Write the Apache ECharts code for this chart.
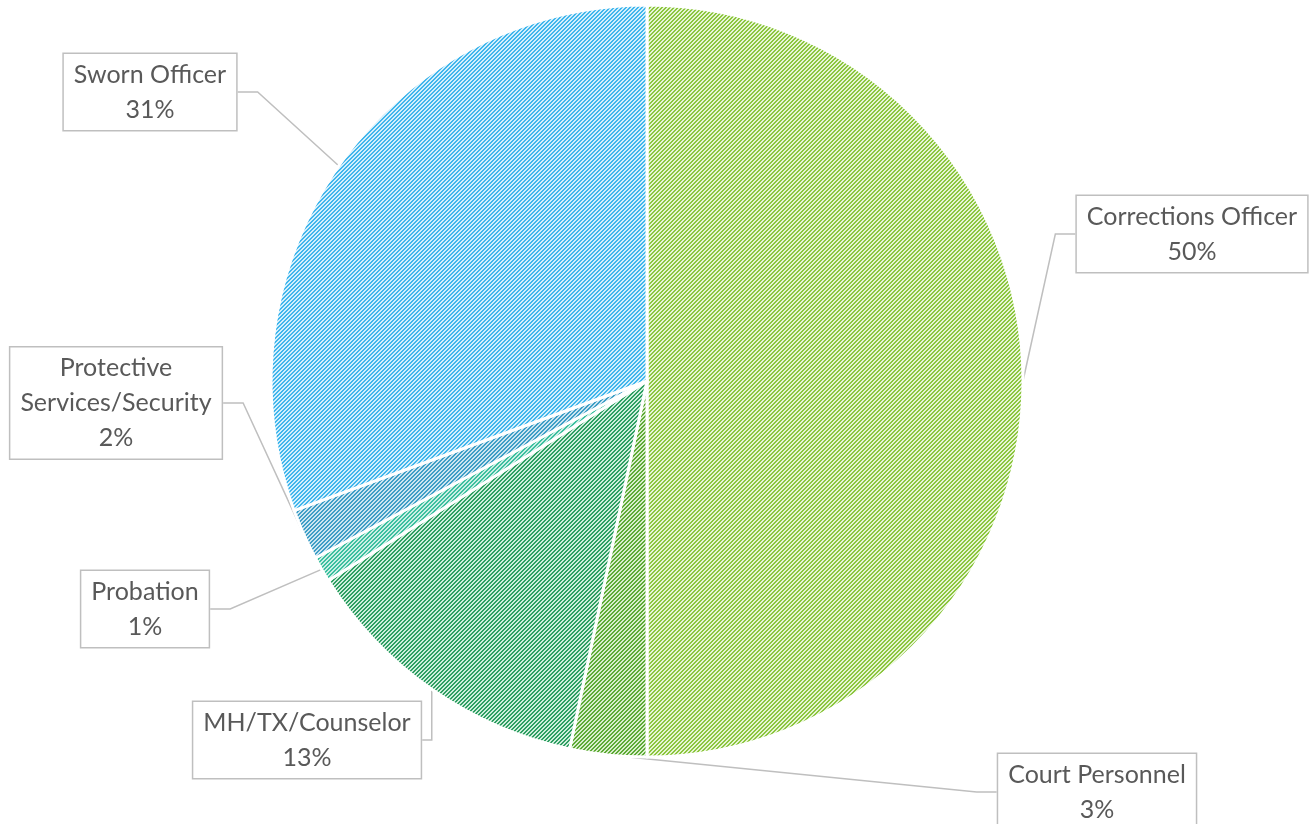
<!DOCTYPE html>
<html>
<head>
<meta charset="utf-8">
<style>
  html, body { margin: 0; padding: 0; background: #fff; }
  #main { width: 1314px; height: 824px; }
</style>
<script src="https://cdn.jsdelivr.net/npm/echarts@6/dist/echarts.min.js"></script>
</head>
<body>
<div id="main"></div>
<script>
// categories, clockwise from 12 o'clock
var categories = ['Corrections Officer', 'Court Personnel', 'MH/TX/Counselor', 'Probation', 'Protective Services/Security', 'Sworn Officer'];
var labelNames = ['Corrections Officer', 'Court Personnel', 'MH/TX/Counselor', 'Probation', 'Protective\nServices/Security', 'Sworn Officer'];
// share of respondents (%)
var values = [50, 3.3, 12.8, 1.1, 2.2, 30.6];

// hatch colours: [stripe, background]
var hatch = [
    ['#8cc63e', '#e6f4d4'],
    ['#5daa35', '#d8edcc'],
    ['#2e9e62', '#cfeedc'],
    ['#3cbf9f', '#cbefe4'],
    ['#3e9ec6', '#cce5f0'],
    ['#41b6ec', '#d4effc']
];
// where each callout box sits
var labelPos = [[1192, 234], [1097, 792], [307, 740], [145, 609], [116, 403], [150, 92]];

function makeHatch(fg, bg) {
    var c = document.createElement('canvas');
    c.width = 4; c.height = 4;
    var ctx = c.getContext('2d');
    ctx.fillStyle = bg;
    ctx.fillRect(0, 0, 4, 4);
    ctx.fillStyle = fg;
    for (var x = 0; x < 4; x++) {
        for (var y = 0; y < 4; y++) {
            if ((x + y) % 4 < 2) ctx.fillRect(x, y, 1, 1);
        }
    }
    return c;
}

var data = categories.map(function (name, i) {
    return {
        name: name,
        value: values[i],
        itemStyle: { color: { image: makeHatch(hatch[i][0], hatch[i][1]), repeat: 'repeat' } }
    };
});

var myChart = echarts.init(document.getElementById('main'));

var option = {
    animation: false,
    series: [{
        type: 'pie',
        center: [647, 381],
        radius: 376,
        startAngle: 90,
        clockwise: true,
        percentPrecision: 0,
        data: data,
        itemStyle: {
            borderColor: '#ffffff',
            borderWidth: 3
        },
        label: {
            show: true,
            position: 'outside',
            formatter: function (p) {
                return labelNames[p.dataIndex] + '\n' + p.percent + '%';
            },
            fontFamily: 'Lato',
            fontSize: 25,
            lineHeight: 35,
            color: '#595959',
            align: 'center',
            backgroundColor: '#ffffff',
            borderColor: '#bfbfbf',
            borderWidth: 1.5,
            padding: [3, 10, 3, 10]
        },
        labelLine: {
            show: true,
            length: 20,
            length2: 20,
            lineStyle: { color: '#bfbfbf', width: 1.5 }
        },
        labelLayout: function (params) {
            var p = labelPos[params.dataIndex];
            return {
                x: p[0],
                y: p[1],
                align: 'center',
                verticalAlign: 'middle'
            };
        }
    }]
};

myChart.setOption(option);
window.addEventListener('resize', function () {
    myChart.resize();
});
</script>
</body>
</html>
